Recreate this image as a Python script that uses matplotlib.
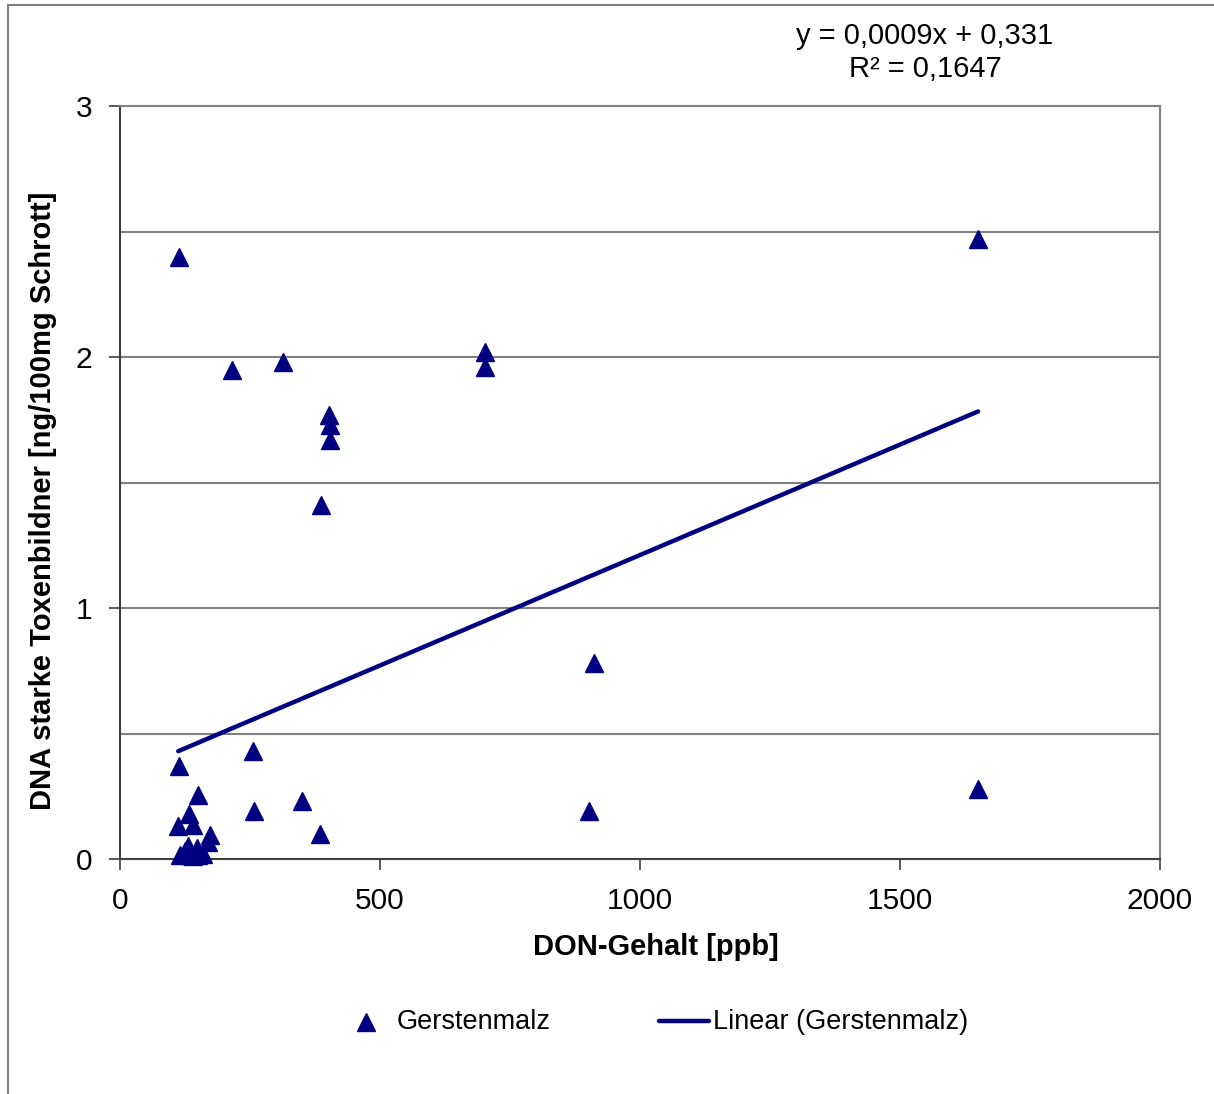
import matplotlib
matplotlib.use("Agg")
import matplotlib.pyplot as plt
import numpy as np
from matplotlib.lines import Line2D

plt.rcParams['font.family'] = ['Liberation Sans', 'DejaVu Sans']

# DON content [ppb] vs. DNA of strong toxin producers [ng/100mg Schrott]
don_ppb = [113, 215, 313, 402, 404, 404, 387, 702, 702, 1650,
           912, 902, 1650, 256, 258, 350, 385, 113,
           150, 133, 112, 140, 173, 169, 115, 135, 150, 160, 131, 148, 125, 140]
dna_ng = [2.40, 1.95, 1.98, 1.77, 1.73, 1.67, 1.41, 2.02, 1.96, 2.47,
          0.78, 0.19, 0.28, 0.43, 0.19, 0.23, 0.10, 0.37,
          0.255, 0.18, 0.13, 0.135, 0.095, 0.068, 0.015, 0.015, 0.015, 0.02, 0.05, 0.045, 0.03, 0.01]

slope = 0.00088
intercept = 0.331
r_squared = 0.1647

series_name = "Gerstenmalz"
trend_name = "Linear (Gerstenmalz)"
x_label = "DON-Gehalt [ppb]"
y_label = "DNA starke Toxenbildner [ng/100mg Schrott]"

navy = "#000080"
W, H = 1214, 1094
fig = plt.figure(figsize=(W / 100, H / 100), dpi=100)


def fx(px):
    return px / W


def fy(py):
    return 1 - py / H


# outer chart border (left and top edges visible)
fig.add_artist(Line2D([fx(8), fx(8)], [0, fy(5)], color="#808080", lw=1.5))
fig.add_artist(Line2D([fx(8), 1], [fy(5), fy(5)], color="#808080", lw=1.5))

ax = fig.add_axes([fx(120), fy(859), (1160 - 120) / W, (859 - 106) / H])
ax.set_xlim(0, 2000)
ax.set_ylim(0, 3)

for yv in np.arange(0.5, 3.0, 0.5):
    ax.axhline(yv, color="#808080", lw=1.5, zorder=1)

ax.plot(don_ppb, dna_ng, linestyle="none", marker="^", markersize=13,
        color=navy, markeredgecolor=navy, zorder=3, clip_on=False)

xs = np.array([min(don_ppb), max(don_ppb)])
ax.plot(xs, slope * xs + intercept, color=navy, lw=3.2, zorder=2,
        solid_capstyle="round")

ax.set_xticks([0, 500, 1000, 1500, 2000])
ax.set_yticks([0, 1, 2, 3])
ax.tick_params(axis="both", labelsize=21.5, length=8, width=1.2,
               direction="out", color="#404040")
ax.tick_params(axis="x", pad=12)
ax.tick_params(axis="y", pad=12)

for s in ["top", "right"]:
    ax.spines[s].set_color("#808080")
    ax.spines[s].set_linewidth(1.5)
for s in ["left", "bottom"]:
    ax.spines[s].set_color("#404040")
    ax.spines[s].set_linewidth(1.5)

fig.text(fx(656), fy(947), x_label, ha="center", va="center",
         fontsize=21, fontweight="bold")
fig.text(fx(43), fy(501), y_label, ha="center", va="center",
         fontsize=21, fontweight="bold", rotation=90)

eq = f"y = {round(slope, 4):.4f}x + {intercept:.3f}".replace(".", ",")
r2 = f"R² = {r_squared:.4f}".replace(".", ",")
fig.text(fx(925), fy(36), eq, ha="center", va="center", fontsize=21)
fig.text(fx(925), fy(69), r2, ha="center", va="center", fontsize=21)

# legend row
fig.add_artist(Line2D([fx(366)], [fy(1022)], linestyle="none", marker="^",
                      markersize=13, color=navy))
fig.text(fx(397), fy(1022), series_name, ha="left", va="center", fontsize=19.5)
fig.add_artist(Line2D([fx(659), fx(709)], [fy(1021), fy(1021)], color=navy,
                      lw=3.2, solid_capstyle="round"))
fig.text(fx(713), fy(1022), trend_name, ha="left", va="center", fontsize=19.5)

fig.savefig("out.png", dpi=100)
